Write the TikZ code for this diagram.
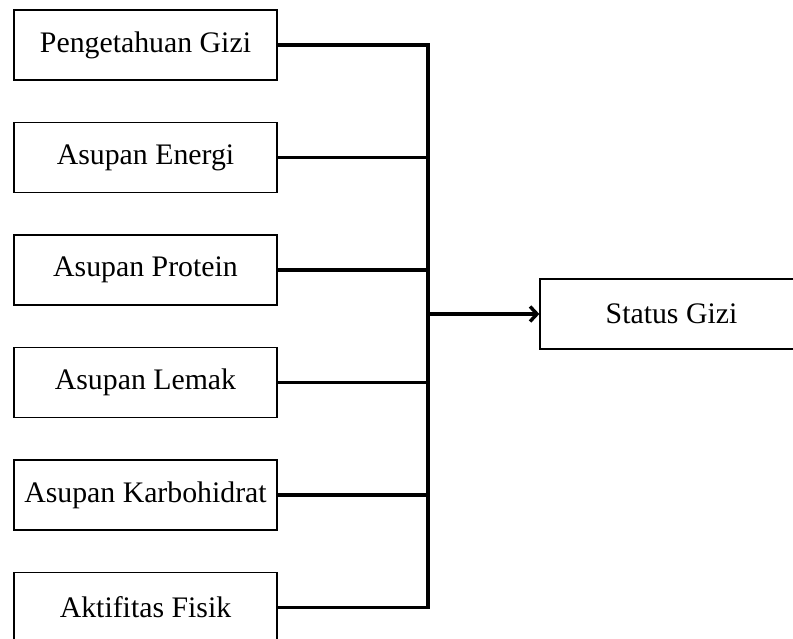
\documentclass[tikz,border=0pt]{standalone}
\usepackage{fontspec}
\setmainfont{Liberation Serif}
\usepackage{tikz}
\usetikzlibrary{positioning}
\usetikzlibrary{arrows.meta}

\begin{document}
\begin{tikzpicture}[x=1pt, y=-1pt,
	kotak/.style = {draw, line width=1.3pt, minimum width=263pt, minimum height=70pt,
		inner sep=0pt, font=\fontsize{29.8}{34}\selectfont},
	garis/.style = {line width=3.4pt}
	]
	
	% ------------------------------------------------
	% Ensure the dimensions of graphic are appropriate
	\clip (0,0) rectangle (793,639);
	\useasboundingbox (0,0) rectangle (793,639);
	
	% ----------------
	% Variable boxes
	\node[kotak] (Pengetahuan) at (145.5,45) {Pengetahuan Gizi};
	\node[kotak, below=41.2pt of Pengetahuan] (Energi) {Asupan Energi};
	\node[kotak, below=41.2pt of Energi] (Protein) {Asupan Protein};
	\node[kotak, below=41.2pt of Protein] (Lemak) {Asupan Lemak};
	\node[kotak, below=41.2pt of Lemak] (Karbo) {Asupan Karbohidrat};
	\node[kotak, below=41.2pt of Karbo] (Aktifitas) {Aktifitas Fisik};
	
	\node[kotak] (Status) at (671.5,314) {Status Gizi};
	
	% ------------------------------------------------
	% Relevant coordinates
	\coordinate (JTop) at (428,0 |- Pengetahuan.east);
	\coordinate (JBot) at (428,0 |- Aktifitas.east);
	\coordinate (JMid) at (428,0 |- Status.west);
	
	%%%%%%%%%%%%%%%%%%%%%%%%%%%%%%%%%%%%%%%%%
	% Connectors
	\foreach \v in {Pengetahuan, Energi, Protein, Lemak, Karbo, Aktifitas}
		\draw[garis] (\v.east) -- (\v.east -| JTop);
	
	\draw[garis, line cap=rect] (JTop) -- (JBot);
	\draw[garis, -{Straight Barb[length=7pt, width=15pt]}] (JMid) -- (Status.west);
	
\end{tikzpicture}
\end{document}
